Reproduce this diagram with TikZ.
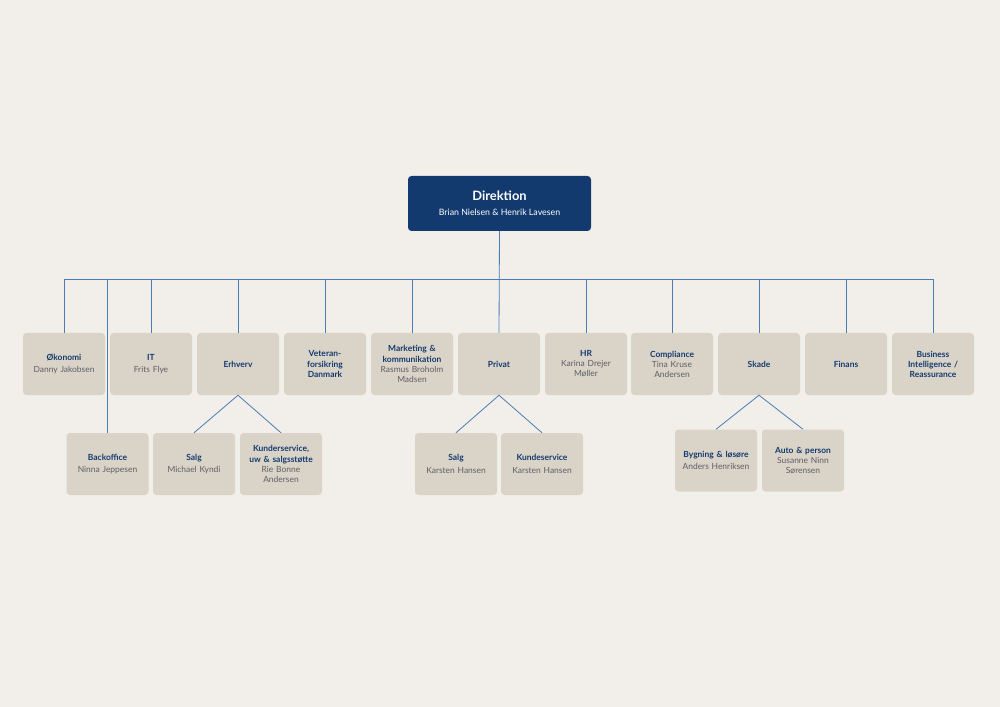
\documentclass[tikz,border=0pt]{standalone}
\usepackage{fontspec}
\setmainfont{Lato}
\definecolor{bg}{HTML}{F2EFEA}
\definecolor{boxfill}{HTML}{DAD3C8}
\definecolor{navy}{HTML}{133A6E}
\definecolor{linecol}{HTML}{4C7EB5}
\definecolor{namecol}{HTML}{5E5E66}
\newcommand{\unit}[2]{{\bfseries\color{navy}#1}\\[2pt]{\color{namecol}#2}}
\begin{document}
\begin{tikzpicture}[x=0.03cm,y=-0.03cm,
  dept/.style={fill=boxfill,rounded corners=3pt,minimum width=82*0.03cm,minimum height=62*0.03cm,
    align=center,text width=78*0.03cm,font=\fontsize{7.2}{8.6}\selectfont,inner sep=1pt},
  conn/.style={draw=linecol,line width=0.7pt}]
\fill[bg] (0,0) rectangle (1000,707);
\node[fill=navy,rounded corners=3pt,minimum width=183*0.03cm,minimum height=55*0.03cm,align=center,text=white]
  (dir) at (499.5,203.5) {{\bfseries\fontsize{11}{13}\selectfont Direktion}\\[1pt]{\fontsize{7.5}{9}\selectfont Brian Nielsen \& Henrik Lavesen}};
% top row
\node[dept] (oko) at (64,364) {\unit{Økonomi}{Danny Jakobsen}};
\node[dept] (it) at (151,364) {\unit{IT}{Frits Flye}};
\node[dept] (erh) at (238,364) {{\bfseries\color{navy}Erhverv}};
\node[dept] (vet) at (325,364) {{\bfseries\color{navy}Veteran-\\forsikring\\Danmark}};
\node[dept] (mar) at (412,364) {{\bfseries\color{navy}Marketing \&\\kommunikation}\\{\color{namecol}Rasmus Broholm\\Madsen}};
\node[dept] (pri) at (499,364) {{\bfseries\color{navy}Privat}};
\node[dept] (hr) at (586,364) {{\bfseries\color{navy}HR}\\{\color{namecol}Karina Drejer\\Møller}};
\node[dept] (com) at (672,364) {{\bfseries\color{navy}Compliance}\\{\color{namecol}Tina Kruse\\Andersen}};
\node[dept] (ska) at (759,364) {{\bfseries\color{navy}Skade}};
\node[dept] (fin) at (846,364) {{\bfseries\color{navy}Finans}};
\node[dept] (bi) at (933,364) {{\bfseries\color{navy}Business\\Intelligence /\\Reassurance}};
% second row
\node[dept] (bac) at (107.5,464) {\unit{Backoffice}{Ninna Jeppesen}};
\node[dept] (esal) at (194,464) {\unit{Salg}{Michael Kyndi}};
\node[dept] (ekun) at (281,464) {{\bfseries\color{navy}Kunderservice,\\uw \& salgsstøtte}\\{\color{namecol}Rie Bonne\\Andersen}};
\node[dept] (psal) at (456,464) {\unit{Salg}{Karsten Hansen}};
\node[dept] (pkun) at (542,464) {\unit{Kundeservice}{Karsten Hansen}};
\node[dept] (sbyg) at (716,460.5) {\unit{Bygning \& løsøre}{Anders Henriksen}};
\node[dept] (saut) at (803,460.5) {{\bfseries\color{navy}Auto \& person}\\{\color{namecol}Susanne Ninn\\Sørensen}};
% connectors
\coordinate (busl) at (64,279);
\coordinate (busr) at (933,279);
\draw[conn] (dir.south) -- (pri.north);
\draw[conn] (oko.north) -- (busl) -- (busr) -- (bi.north);
\foreach \n in {it,erh,vet,mar,hr,com,ska,fin}
  \draw[conn] (\n.north) -- (\n.north |- busl);
\draw[conn] (bac.north) -- (bac.north |- busl);
\foreach \p/\a/\b in {erh/esal/ekun,pri/psal/pkun,ska/sbyg/saut}{
  \draw[conn] (\a.north) -- (\p.south) -- (\b.north);
}
\end{tikzpicture}
\end{document}
